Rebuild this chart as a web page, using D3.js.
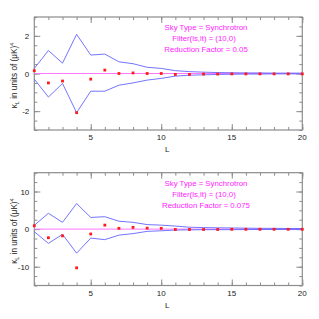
<!DOCTYPE html>
<html>
<head>
<meta charset="utf-8">
<script src="https://cdn.jsdelivr.net/npm/d3@7"></script>
<style>
  body { margin: 0; background: #fff; }
  text { font-family: "Liberation Sans", Arial, sans-serif; }
</style>
</head>
<body>
<svg id="chart" width="319" height="319"></svg>
<script>
// multipoles
const ells = d3.range(1, 21);

// top panel (reduction factor 0.05)
const topPoints = [0.15, -0.5, -0.4, -2.08, -0.3, 0.18, 0, 0.03, 0, 0, -0.05, -0.05, -0.03, -0.03, -0.02, -0.02, -0.02, -0.02, -0.02, -0.02];
const topUpper = [0.27, 1.22, 0.55, 2.08, 0.98, 1.03, 0.62, 0.52, 0.33, 0.27, 0.15, 0.1, 0.07, 0.05, 0.04, 0.03, 0.03, 0.02, 0.02, 0.02];
const topLower = [-0.3, -1.25, -0.53, -2.08, -0.94, -0.94, -0.62, -0.5, -0.35, -0.26, -0.14, -0.09, -0.07, -0.05, -0.04, -0.03, -0.03, -0.02, -0.02, -0.02];

// bottom panel (reduction factor 0.075)
const botPoints = [0.9, -2.3, -1.8, -10.3, -1.3, 1.06, 0.2, 0.45, 0.25, 0.2, -0.1, -0.1, -0.1, -0.1, -0.05, -0.05, -0.05, -0.05, -0.05, -0.05];
const botUpper = [1.0, 4.2, 1.8, 6.8, 3.1, 3.3, 2.1, 1.8, 1.2, 1.05, 0.8, 0.5, 0.4, 0.35, 0.3, 0.25, 0.2, 0.2, 0.15, 0.15];
const botLower = [-0.7, -3.8, -1.4, -6.4, -2.4, -2.8, -1.6, -1.2, -0.6, -0.45, -0.25, -0.2, -0.15, -0.15, -0.15, -0.12, -0.12, -0.1, -0.1, -0.1];

const panelText = [
  ["Sky Type =  Synchrotron", "Filter(ls,lt) = (10,0)", "Reduction Factor = 0.05"],
  ["Sky Type =  Synchrotron", "Filter(ls,lt) = (10,0)", "Reduction Factor = 0.075"]
];

const svg = d3.select("#chart");
const left = 34.3, right = 302.3;
const frameColor = "#8c8c8c";

function drawPanel(top, bottom, ymax, major, minor, pts, up, lo, lines) {
  const x = d3.scaleLinear().domain([1, 20]).range([left, right]);
  const y = d3.scaleLinear().domain([-ymax, ymax]).range([bottom, top]);
  const g = svg.append("g");
  const h = bottom - top, w = right - left;

  const minorX = d3.range(1, 21);
  const majorX = [5, 10, 15, 20];
  const minorY = d3.range(-ymax, ymax + 0.001, minor);
  const majorY = d3.range(-ymax + (ymax % major), ymax + 0.001, major).filter(v => Math.abs(v) < ymax);

  // ticks on all four sides, pointing inward
  const axes = [
    [d3.axisBottom(x).tickValues(minorX), `translate(0,${bottom})`, -3],
    [d3.axisTop(x).tickValues(minorX), `translate(0,${top})`, -3],
    [d3.axisLeft(y).tickValues(minorY), `translate(${left},0)`, -3],
    [d3.axisRight(y).tickValues(minorY), `translate(${right},0)`, -3],
    [d3.axisBottom(x).tickValues(majorX), `translate(0,${bottom})`, -6],
    [d3.axisTop(x).tickValues(majorX), `translate(0,${top})`, -6],
    [d3.axisLeft(y).tickValues(majorY), `translate(${left},0)`, -6],
    [d3.axisRight(y).tickValues(majorY), `translate(${right},0)`, -6]
  ];
  axes.forEach(([ax, tr, sz]) => {
    const a = g.append("g").attr("transform", tr)
      .call(ax.tickSize(sz).tickSizeOuter(0).tickFormat(""));
    a.select(".domain").remove();
    a.selectAll("line").attr("stroke", frameColor);
  });

  // frame
  g.append("rect")
    .attr("x", left).attr("y", top).attr("width", w).attr("height", h)
    .attr("fill", "none").attr("stroke", frameColor).attr("stroke-width", 1.2);

  // tick labels
  g.selectAll(".xl").data(majorX).enter().append("text")
    .attr("x", d => x(d)).attr("y", bottom + 10)
    .attr("text-anchor", "middle").attr("font-size", 8).attr("fill", "#222")
    .text(d => d);
  g.selectAll(".yl").data(majorY).enter().append("text")
    .attr("x", left - 5).attr("y", d => y(d) + 3)
    .attr("text-anchor", "end").attr("font-size", 8).attr("fill", "#222")
    .text(d => d3.format("d")(d).replace("−", "-"));

  // axis titles
  g.append("text")
    .attr("x", (left + right) / 2 - 1).attr("y", bottom + 22)
    .attr("text-anchor", "middle").attr("font-size", 8).attr("fill", "#222")
    .text("L");
  const yl = g.append("text")
    .attr("transform", `translate(17,${(top + bottom) / 2 + 2}) rotate(-90)`)
    .attr("text-anchor", "middle").attr("font-size", 8.2).attr("fill", "#222");
  yl.append("tspan").text("\u03BA");
  yl.append("tspan").attr("font-size", 5.5).attr("dy", 2).text("L");
  yl.append("tspan").attr("dy", -2).text(" in units of (\u03BCK)");
  yl.append("tspan").attr("font-size", 5.5).attr("dy", -3).text("4");

  // zero line
  g.append("line")
    .attr("x1", left).attr("x2", right).attr("y1", y(0)).attr("y2", y(0))
    .attr("stroke", "#ff77ff").attr("stroke-width", 1);

  // envelope lines
  const line = d3.line().x((d, i) => x(ells[i])).y(d => y(d));
  [up, lo].forEach(s => {
    g.append("path").datum(s).attr("d", line)
      .attr("fill", "none").attr("stroke", "#6464ff").attr("stroke-width", 0.9);
  });

  // data points
  g.selectAll(".pt").data(pts).enter().append("rect")
    .attr("x", (d, i) => x(ells[i]) - 1.4).attr("y", d => y(d) - 1.4)
    .attr("width", 2.8).attr("height", 2.8)
    .attr("fill", "#ff1a1a");

  // annotation
  lines.forEach((t, i) => {
    g.append("text")
      .attr("x", i === 1 ? 204 : 206).attr("y", top + 13 + i * 11)
      .attr("text-anchor", "middle").attr("font-size", 7.8).attr("fill", "#ff22ff")
      .text(t);
  });
}

drawPanel(17, 130, 3, 2, 0.5, topPoints, topUpper, topLower, panelText[0]);
drawPanel(172.7, 285.5, 15, 10, 2.5, botPoints, botUpper, botLower, panelText[1]);
</script>
</body>
</html>
